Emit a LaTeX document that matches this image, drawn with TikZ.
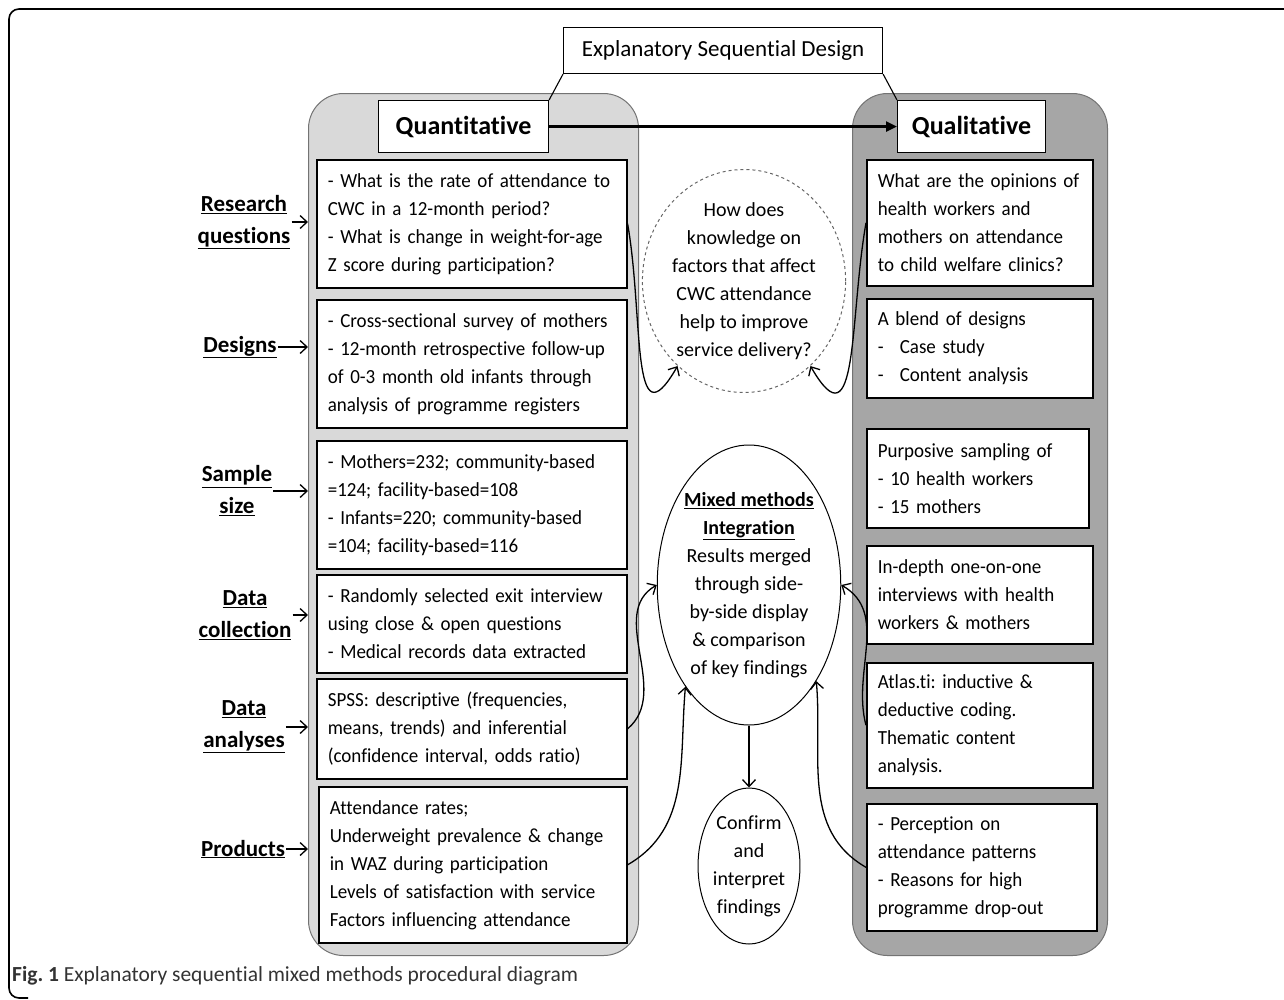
\documentclass[tikz,border=0pt]{standalone}
\usepackage{fontspec}
\setmainfont{Carlito}[Ligatures=NoCommon]
\newfontfamily\boxfont{Carlito}[Ligatures=NoCommon,FakeStretch=0.95]
\newfontfamily\capfont{Carlito}[Ligatures=NoCommon]
\frenchspacing
\usetikzlibrary{arrows.meta,positioning,shapes.geometric}

\begin{document}
\begin{tikzpicture}[x=1pt,y=-1pt,
  every node/.style={font=\fontsize{20}{28}\selectfont},
  panel/.style={draw=black!55,line width=1pt,rounded corners=35pt,inner sep=0pt,anchor=north west},
  box/.style={draw,line width=1.6pt,fill=white,anchor=north west,align=left,inner xsep=11pt,inner ysep=0pt,
    font=\boxfont\fontsize{20}{28}\selectfont},
  head/.style={draw,line width=1.1pt,fill=white,anchor=north west,inner sep=0pt},
  side/.style={align=center,inner sep=1pt,font=\fontsize{23}{32}\selectfont\bfseries},
  oval/.style={draw,ellipse,inner sep=0pt,align=center,line width=1pt},
  link/.style={-{Straight Barb[length=7pt,width=13pt]},line width=1.3pt},
  bigarrow/.style={-{Triangle[length=11pt,width=10pt]},line width=2.6pt}]

    \useasboundingbox (0,0) rectangle (1284,999);
    \draw[line width=1.6pt,rounded corners=10pt] (1290,9) -- (9,9) -- (9,998) -- (28,998);

    % the two strands
    \node[panel,fill=black!15,minimum width=330pt,minimum height=862pt] (quantpanel) at (308,93) {};
    \node[panel,fill=black!35,minimum width=255pt,minimum height=862pt] (qualpanel) at (852,93) {};

    \node[head,font=\fontsize{23}{28}\selectfont,minimum width=319pt,minimum height=46pt] (design) at (563,27) {Explanatory Sequential Design};
    \node[head,font=\fontsize{26}{30}\selectfont\bfseries,minimum width=170pt,minimum height=52pt] (quant) at (378,100) {Quantitative};
    \node[head,font=\fontsize{26}{30}\selectfont\bfseries,minimum width=148pt,minimum height=52pt] (qual) at (897,100) {Qualitative};

    \draw[line width=1.1pt] (design.south west) -- (quant.north east);
    \draw[line width=1.1pt] (design.south east) -- (qual.north west);
    \draw[bigarrow] (quant.east) -- (qual.west);

    % quantitative boxes
    \node[box,text width=288pt,minimum height=128pt] (rq) at (316,159)
        {- What is the rate of attendance to\\CWC in a 12-month period?\\- What is change in weight-for-age\\Z score during participation?};
    \node[box,text width=288pt,minimum height=128pt] (dsg) at (316,299)
        {- Cross-sectional survey of mothers\\- 12-month retrospective follow-up\\of 0-3 month old infants through\\analysis of programme registers};
    \node[box,text width=288pt,minimum height=128pt] (smp) at (316,440)
        {- Mothers=232; community-based\\=124; facility-based=108\\- Infants=220; community-based\\=104; facility-based=116};
    \node[box,text width=288pt,minimum height=98pt] (col) at (316,574)
        {- Randomly selected exit interview\\using close \& open questions\\- Medical records data extracted};
    \node[box,text width=288pt,minimum height=100pt] (ana) at (316,678)
        {SPSS: descriptive (frequencies,\\means, trends) and inferential\\(confidence interval, odds ratio)};
    \node[box,text width=286pt,minimum height=156pt] (prd) at (318,786)
        {Attendance rates;\\Underweight prevalence \& change\\in WAZ during participation\\Levels of satisfaction with service\\Factors influencing attendance};

    % qualitative boxes
    \node[box,text width=204pt,minimum height=126pt] (oq) at (866,159)
        {What are the opinions of\\health workers and\\mothers on attendance\\to child welfare clinics?};
    \node[box,text width=204pt,minimum height=99pt] (odsg) at (866,298)
        {A blend of designs\\\makebox[22pt][l]{-}Case study\\\makebox[22pt][l]{-}Content analysis};
    \node[box,text width=200pt,minimum height=99pt] (osmp) at (866,428)
        {Purposive sampling of\\- 10 health workers\\- 15 mothers};
    \node[box,text width=204pt,minimum height=98pt] (ocol) at (866,545)
        {In-depth one-on-one\\interviews with health\\workers \& mothers};
    \node[box,text width=204pt,minimum height=125pt] (oana) at (866,662)
        {Atlas.ti: inductive \&\\deductive coding.\\Thematic content\\analysis.};
    \node[box,text width=208pt,minimum height=127pt] (oprd) at (866,803)
        {- Perception on\\attendance patterns\\- Reasons for high\\programme drop-out};

    % row labels
    \node[side] (rqlab) at (244,222) {\underline{Research}\\\underline{questions}};
    \node[side] (dsglab) at (240,347) {\underline{Designs}};
    \node[side] (smplab) at (237,491) {\underline{Sample}\\\underline{size}};
    \node[side] (collab) at (245,615) {\underline{Data}\\\underline{collection}};
    \node[side] (analab) at (244,727) {\underline{Data}\\\underline{analyses}};
    \node[side] (prdlab) at (243,849) {\underline{Products}};

    \foreach \lab in {rqlab,dsglab,smplab,collab,analab,prdlab}
        \draw[link] (\lab.east) -- (\lab.east -| quantpanel.west);

    % middle column
    \node[oval,dashed,draw=black!60,minimum width=179pt,minimum height=223pt] (kq) at (744,281)
        {How does\\knowledge on\\factors that affect\\CWC attendance\\help to improve\\service delivery?};
    \node[oval,minimum width=178pt,minimum height=280pt] (mix) at (749,585)
        {\textbf{\underline{Mixed methods}}\\\textbf{\underline{Integration}}\\Results merged\\through side-\\by-side display\\\& comparison\\of key findings};
    \node[oval,minimum width=96pt,minimum height=156pt] (conf) at (749,866)
        {Confirm\\and\\interpret\\findings};

    \draw[link] (rq.east) to[out=-80,in=-120,looseness=1.6] (kq.232);
    \draw[link] (oq.west) to[out=-100,in=-60,looseness=1.6] (kq.308);
    \draw[link] (ana.east) to[out=40,in=-150] (mix.west);
    \draw[link] (prd.east) to[out=30,in=-95] (mix.238);
    \draw[link] (oana.west) to[out=105,in=-30] (mix.east);
    \draw[link] (oprd.west) to[out=150,in=-85] (mix.305);
    \draw[link] (mix.south) -- (conf.north);

    \node[anchor=west,inner sep=0pt,font=\capfont\fontsize{21.5}{26}\selectfont,text=black!80] (caption) at (12,976)
        {\textbf{Fig. 1} Explanatory sequential mixed methods procedural diagram};
\end{tikzpicture}
\end{document}
